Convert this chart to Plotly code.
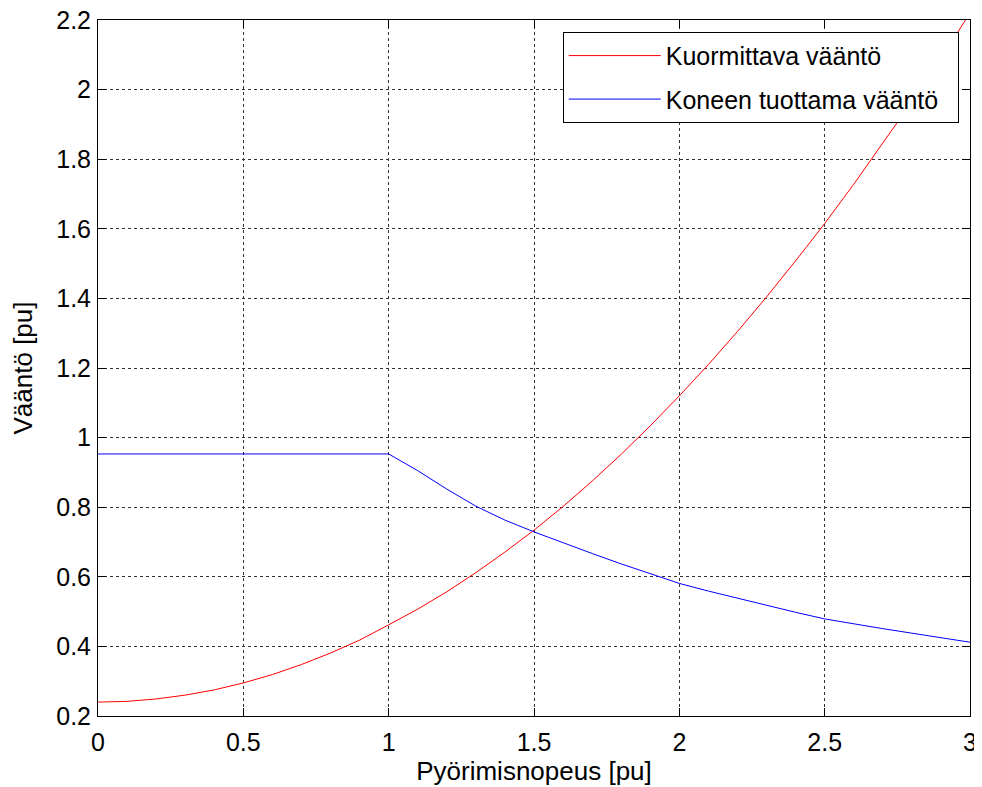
import plotly.graph_objects as go

# Speed [pu]
speed = [0.0, 0.1, 0.2, 0.3, 0.4, 0.5, 0.6, 0.7, 0.8, 0.9, 1.0,
         1.1, 1.2, 1.3, 1.4, 1.5, 1.6, 1.7, 1.8, 1.9, 2.0,
         2.1, 2.2, 2.3, 2.4, 2.5, 2.6, 2.7, 2.8, 2.9, 3.0]

# Load torque (Kuormittava vääntö) [pu]
load_torque = [0.240, 0.242, 0.249, 0.260, 0.275, 0.295, 0.319, 0.348, 0.381, 0.418, 0.462,
               0.507, 0.557, 0.612, 0.671, 0.734, 0.802, 0.875, 0.952, 1.034, 1.120,
               1.210, 1.305, 1.404, 1.508, 1.615, 1.728, 1.845, 1.965, 2.090, 2.220]

# Machine torque (Koneen tuottama vääntö) [pu]
machine_torque = [0.953, 0.953, 0.953, 0.953, 0.953, 0.953, 0.953, 0.953, 0.953, 0.953, 0.953,
                  0.905, 0.852, 0.803, 0.763, 0.729, 0.697, 0.667, 0.637, 0.608, 0.581,
                  0.559, 0.538, 0.517, 0.498, 0.479, 0.464, 0.451, 0.438, 0.425, 0.412]

x_ticks = [0, 0.5, 1, 1.5, 2, 2.5, 3]
x_tick_labels = ["0", "0.5", "1", "1.5", "2", "2.5", "3"]
y_ticks = [0.2, 0.4, 0.6, 0.8, 1.0, 1.2, 1.4, 1.6, 1.8, 2.0, 2.2]
y_tick_labels = ["0.2", "0.4", "0.6", "0.8", "1", "1.2", "1.4", "1.6", "1.8", "2", "2.2"]

FONT = "Liberation Sans, Arial, Helvetica, sans-serif"
TICK_SIZE = 25
TITLE_SIZE = 26

fig = go.Figure()
fig.add_trace(go.Scatter(x=speed, y=load_torque, mode="lines",
                         line=dict(color="#ff0000", width=1),
                         name="Kuormittava vääntö", legendgroup="a"))
fig.add_trace(go.Scatter(x=speed, y=machine_torque, mode="lines",
                         line=dict(color="#0000ff", width=1),
                         name="Koneen tuottama vääntö\u00a0\u00a0", legendgroup="b"))

axis_common = dict(
    showline=True, linecolor="black", linewidth=1, mirror="allticks",
    ticks="inside", ticklen=8, tickcolor="black", tickwidth=1,
    showgrid=True, gridcolor="#333333", gridwidth=1, griddash="dot",
    zeroline=False, automargin=False, ticklabeloverflow="allow",
    tickfont=dict(family=FONT, size=TICK_SIZE, color="black"),
)

fig.update_xaxes(range=[0, 3], tickvals=x_ticks, ticktext=x_tick_labels,
                 ticklabelstandoff=4,
                 title=dict(text="Pyörimisnopeus [pu]",
                            font=dict(family=FONT, size=TITLE_SIZE, color="black"),
                            standoff=0),
                 **axis_common)
fig.update_yaxes(range=[0.2, 2.2], tickvals=y_ticks, ticktext=y_tick_labels,
                 ticklabelstandoff=1,
                 title=dict(text="Vääntö [pu]",
                            font=dict(family=FONT, size=TITLE_SIZE, color="black"),
                            standoff=18),
                 **axis_common)

# The page body adds an 8 px margin, so the figure is sized to fit the window
fig.update_layout(
    width=974, height=779,
    margin=dict(l=90, r=12, t=12, b=71),
    paper_bgcolor="white", plot_bgcolor="white",
    font=dict(family=FONT, size=TICK_SIZE, color="black"),
    showlegend=True,
    legend=dict(x=0.533, y=0.983, xanchor="left", yanchor="top",
                bgcolor="white", bordercolor="black", borderwidth=1,
                font=dict(family=FONT, size=TICK_SIZE, color="black"),
                itemwidth=92, traceorder="grouped", tracegroupgap=8),
)

fig.write_html("out.html")
